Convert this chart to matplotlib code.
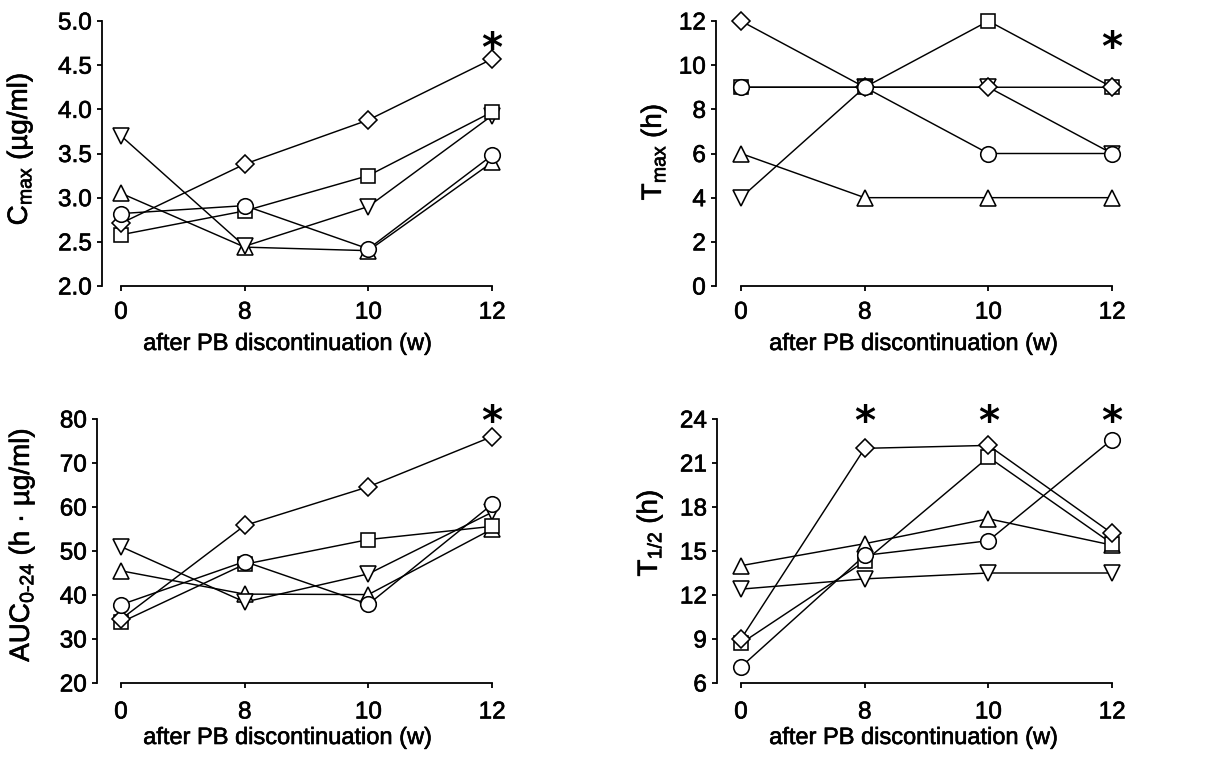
import matplotlib
matplotlib.use("Agg")
import matplotlib.pyplot as plt
import matplotlib.patheffects as pe

plt.rcParams["font.family"] = ["Liberation Sans", "DejaVu Sans"]
plt.rcParams["mathtext.fontset"] = "custom"
plt.rcParams["mathtext.rm"] = "Liberation Sans"
plt.rcParams["mathtext.it"] = "Liberation Sans"
plt.rcParams["mathtext.default"] = "regular"

# weeks after phenobarbital discontinuation (categorical x axis)
weeks = ["0", "8", "10", "12"]

# Cmax (ug/ml)
cmax_diamond = [2.71, 3.38, 3.88, 4.57]
cmax_square = [2.58, 2.85, 3.25, 3.97]
cmax_circle = [2.82, 2.91, 2.42, 3.48]
cmax_up = [3.05, 2.44, 2.40, 3.40]
cmax_down = [3.70, 2.45, 2.90, 3.93]

# Tmax (h)
tmax_diamond = [12, 9, 9, 9]
tmax_square = [9, 9, 12, 9]
tmax_circle = [9, 9, 6, 6]
tmax_up = [6, 4, 4, 4]
tmax_down = [4, 9, 9, 6]

# AUC 0-24 (h*ug/ml)
auc_diamond = [34.5, 55.8, 64.6, 76.0]
auc_square = [33.8, 47.0, 52.6, 55.6]
auc_circle = [37.8, 47.6, 37.9, 60.6]
auc_up = [45.5, 40.2, 40.1, 55.0]
auc_down = [51.0, 38.4, 44.8, 58.8]

# T1/2 (h)
thalf_diamond = [9.0, 22.0, 22.2, 16.2]
thalf_square = [8.7, 14.3, 21.4, 15.5]
thalf_circle = [7.1, 14.7, 15.7, 22.6]
thalf_up = [14.0, 15.5, 17.2, 15.4]
thalf_down = [12.4, 13.1, 13.5, 13.5]

# significance marks: (week index, height)
cmax_sig = [(3, 4.78)]
tmax_sig = [(3, 11.2)]
auc_sig = [(3, 81.4)]
thalf_sig = [(1, 24.4), (2, 24.4), (3, 24.4)]

W, H = 1222, 757
fig = plt.figure(figsize=(W / 100, H / 100), dpi=100)

pos = list(range(len(weeks)))
STEP = 123.7  # pixels per category

# marker style for each series, drawn bottom to top
styles = [("^", 11.5), ("v", 11.5), ("s", 10.0), ("D", 8.8), ("o", 11.2)]

thick = [pe.withStroke(linewidth=0.45, foreground="black")]


def make_panel(spine_px, x0_px, top_px, bottom_px, series, yticks, yfmt,
               ylabel, sig, ylabel_xy, xlabel_xy, xpad):
    right_px = x0_px + 3 * STEP + 12
    ax = fig.add_axes([spine_px / W, 1 - bottom_px / H,
                       (right_px - spine_px) / W, (bottom_px - top_px) / H])
    ax.set_xlim(-(x0_px - spine_px) / STEP, 3 + 12 / STEP)
    ax.set_ylim(yticks[0], yticks[-1])

    for vals in series:
        ax.plot(pos, vals, color="black", lw=1.05, zorder=2,
                solid_joinstyle="miter")
    for (mk, ms), vals in zip(styles, series):
        ax.plot(pos, vals, linestyle="none", marker=mk, ms=ms,
                mfc="white", mec="black", mew=1.15, zorder=3,
                clip_on=False)

    for xi, yv in sig:
        ax.annotate("*", xy=(xi, yv), xytext=(0, -15), textcoords="offset points",
                    ha="center", va="baseline", fontsize=29,
                    fontfamily="DejaVu Sans", fontweight="bold",
                    annotation_clip=False)

    ax.spines["top"].set_visible(False)
    ax.spines["right"].set_visible(False)
    ax.spines["left"].set_bounds(yticks[0], yticks[-1])
    ax.spines["bottom"].set_bounds(0, 3)
    for s in ("left", "bottom"):
        ax.spines[s].set_linewidth(1.3)

    ax.set_xticks(pos)
    ax.set_xticklabels(weeks)
    ax.set_yticks(yticks)
    ax.set_yticklabels([yfmt.format(v) for v in yticks])
    ax.tick_params(axis="both", direction="out", length=3.8, width=1.3,
                   labelsize=17.5)
    ax.tick_params(axis="y", pad=3.5)
    ax.tick_params(axis="x", pad=xpad)
    for lab in ax.get_xticklabels() + ax.get_yticklabels():
        lab.set_path_effects(thick)

    ax.set_ylabel(ylabel, fontsize=20)
    ax.yaxis.label.set_va("center")
    ax.yaxis.label.set_path_effects(thick)
    ax.yaxis.set_label_coords(ylabel_xy[0] / W, 1 - ylabel_xy[1] / H,
                              transform=fig.transFigure)
    ax.set_xlabel("after PB discontinuation (w)", fontsize=17)
    ax.xaxis.label.set_va("center")
    ax.xaxis.label.set_path_effects(thick)
    ax.xaxis.set_label_coords(xlabel_xy[0] / W, 1 - xlabel_xy[1] / H,
                              transform=fig.transFigure)
    return ax


make_panel(102, 121, 21, 286,
           [cmax_up, cmax_down, cmax_square, cmax_diamond, cmax_circle],
           [2.0, 2.5, 3.0, 3.5, 4.0, 4.5, 5.0], "{:.1f}",
           r"C$_{max}$ (µg/ml)", cmax_sig, (20, 149), (288, 344), 7.5)

make_panel(716, 741, 21, 286,
           [tmax_up, tmax_down, tmax_square, tmax_diamond, tmax_circle],
           [0, 2, 4, 6, 8, 10, 12], "{:d}",
           r"T$_{max}$ (h)", tmax_sig, (654, 152), (914, 344), 7.5)

make_panel(97, 121, 419, 683,
           [auc_up, auc_down, auc_square, auc_diamond, auc_circle],
           [20, 30, 40, 50, 60, 70, 80], "{:d}",
           "AUC$_{0\u201024}$ (h · µg/ml)", auc_sig, (22, 545), (288, 738), 9.5)

make_panel(717, 741, 419, 683,
           [thalf_up, thalf_down, thalf_square, thalf_diamond, thalf_circle],
           [6, 9, 12, 15, 18, 21, 24], "{:d}",
           r"T$_{1/2}$ (h)", thalf_sig, (650, 533), (914, 738), 9.5)

fig.savefig("out.png", dpi=100, facecolor="white")
